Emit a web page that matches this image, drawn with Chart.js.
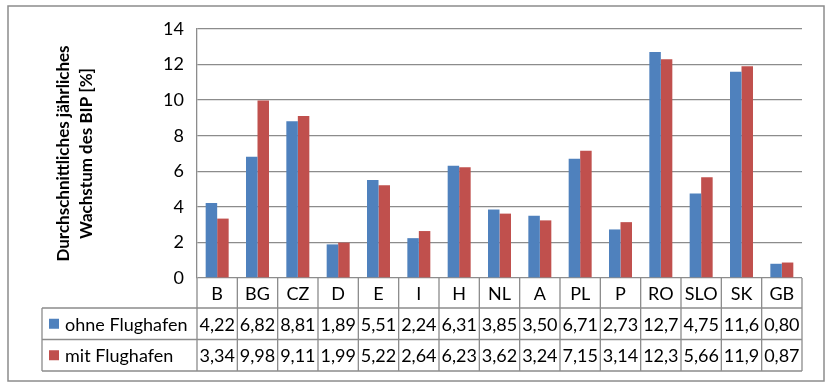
<!DOCTYPE html>
<html>
<head>
<meta charset="utf-8">
<script src="https://cdn.jsdelivr.net/npm/chart.js@4"></script>
<style>
  html, body { margin: 0; padding: 0; background: #fff; }
  #wrap { width: 833px; height: 387px; }
</style>
</head>
<body>
<div id="wrap"><canvas id="bipChart" width="833" height="387"></canvas></div>
<script>
// Laender
const countries = ["B", "BG", "CZ", "D", "E", "I", "H", "NL", "A", "PL", "P", "RO", "SLO", "SK", "GB"];
// durchschnittliches jaehrliches BIP-Wachstum in %
const ohneFlughafen = [4.22, 6.82, 8.81, 1.89, 5.51, 2.24, 6.31, 3.85, 3.50, 6.71, 2.73, 12.7, 4.75, 11.6, 0.80];
const mitFlughafen = [3.34, 9.98, 9.11, 1.99, 5.22, 2.64, 6.23, 3.62, 3.24, 7.15, 3.14, 12.3, 5.66, 11.9, 0.87];
const seriesNames = ["ohne Flughafen", "mit Flughafen"];
const seriesColors = ["#4F81BD", "#C0504D"];
const yTitle = ["Durchschnittliches jährliches", "Wachstum des BIP [%]"];

const FONT = "Lato, 'Open Sans', sans-serif";
const lineColor = "#8c8c8c";

function fmt(v) {
    const s = v >= 10 ? v.toFixed(1) : v.toFixed(2);
    return s.replace(".", ",");
}

// Datentabelle unter dem Diagramm + Rahmen
const dataTable = {
    id: "dataTable",
    afterDraw(chart) {
        const ctx = chart.ctx;
        const {left, right, bottom} = chart.chartArea;
        const n = countries.length;
        const colW = (right - left) / n;
        const tableLeft = 42;
        const rows = [bottom, bottom + 30, bottom + 61.5, bottom + 93];
        const allData = [ohneFlughafen, mitFlughafen];

        ctx.save();
        ctx.strokeStyle = lineColor;
        ctx.lineWidth = 1.3;
        // horizontale Linien
        ctx.beginPath();
        for (let r = 1; r < rows.length; r++) {
            ctx.moveTo(tableLeft, rows[r]);
            ctx.lineTo(right, rows[r]);
        }
        // vertikale Linien
        for (let i = 0; i <= n; i++) {
            const x = left + i * colW;
            ctx.moveTo(x, rows[0]);
            ctx.lineTo(x, rows[3]);
        }
        ctx.moveTo(tableLeft, rows[1]);
        ctx.lineTo(tableLeft, rows[3]);
        ctx.stroke();

        ctx.fillStyle = "#000";
        ctx.font = "18px " + FONT;
        ctx.textBaseline = "middle";
        ctx.textAlign = "center";
        for (let i = 0; i < n; i++) {
            const cx = chart.scales.x.getPixelForValue(i);
            ctx.fillText(countries[i], cx, (rows[0] + rows[1]) / 2 + 1);
            for (let s = 0; s < 2; s++) {
                ctx.fillText(fmt(allData[s][i]), cx, (rows[s + 1] + rows[s + 2]) / 2 + 1);
            }
        }
        // Legendenschluessel
        ctx.textAlign = "left";
        for (let s = 0; s < 2; s++) {
            const cy = (rows[s + 1] + rows[s + 2]) / 2;
            ctx.fillStyle = seriesColors[s];
            ctx.fillRect(49, cy - 5, 10, 10);
            ctx.fillStyle = "#000";
            ctx.fillText(seriesNames[s], 65, cy + 1);
        }

        // aeusserer Rahmen
        ctx.strokeStyle = lineColor;
        ctx.lineWidth = 1.5;
        ctx.strokeRect(8, 6, 816, 375);
        ctx.restore();
    }
};

const ctx = document.getElementById("bipChart").getContext("2d");
const myChart = new Chart(ctx, {
    type: "bar",
    data: {
        labels: countries,
        datasets: [
            {
                label: seriesNames[0],
                data: ohneFlughafen,
                backgroundColor: seriesColors[0],
                categoryPercentage: 0.57,
                barPercentage: 1.0
            },
            {
                label: seriesNames[1],
                data: mitFlughafen,
                backgroundColor: seriesColors[1],
                categoryPercentage: 0.57,
                barPercentage: 1.0
            }
        ]
    },
    options: {
        responsive: false,
        animation: false,
        layout: {
            padding: {left: 8, right: 31, top: 29, bottom: 101}
        },
        plugins: {
            legend: {display: false},
            tooltip: {enabled: false}
        },
        scales: {
            x: {
                ticks: {display: false},
                grid: {display: false},
                border: {display: false}
            },
            y: {
                min: 0,
                max: 14,
                ticks: {
                    stepSize: 2,
                    color: "#000",
                    padding: 13,
                    font: {family: FONT, size: 18}
                },
                grid: {color: lineColor, lineWidth: 1.3, drawTicks: false},
                border: {color: lineColor, width: 1.3},
                title: {
                    display: true,
                    text: yTitle,
                    color: "#000",
                    padding: {top: 44, bottom: 0},
                    font: {family: FONT, size: 17, weight: "bold", lineHeight: 1.35}
                },
                afterFit(scale) {
                    scale.width = 189;
                }
            }
        }
    },
    plugins: [dataTable]
});
</script>
</body>
</html>
